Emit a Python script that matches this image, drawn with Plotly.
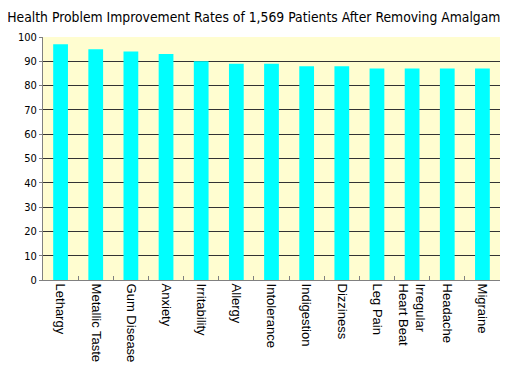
import plotly.graph_objects as go

categories = ["Lethargy", "Metallic Taste", "Gum Disease", "Anxiety", "Irritability",
              "Allergy", "Intolerance", "Indigestion", "Dizziness", "Leg Pain",
              "Irregular<br>Heart Beat", "Headache", "Migraine"]
rates = [97, 95, 94, 93, 90, 89, 89, 88, 88, 87, 87, 87, 87]
y_ticks = [0, 10, 20, 30, 40, 50, 60, 70, 80, 90, 100]
title = "Health Problem Improvement Rates of 1,569 Patients After Removing Amalgam"

fig = go.Figure(go.Bar(x=categories, y=rates, marker=dict(color="#00FFFF", line=dict(width=0))))

fig.update_layout(
    width=510, height=375,
    margin=dict(l=35, r=18, t=29, b=103, autoexpand=False),
    paper_bgcolor="white",
    plot_bgcolor="#FFFDD0",
    bargap=0.58,
    showlegend=False,
    title=dict(text=title, x=0.482, xanchor="center", xref="container",
               y=0.976, yanchor="middle", yref="container",
               font=dict(family="DejaVu Sans Condensed", size=13.8, color="black")),
    font=dict(family="Liberation Sans, Arial", color="black"),
)
fig.update_xaxes(
    automargin=False,
    tickangle=90, tickfont=dict(size=13, family="Liberation Sans, Arial"),
    showline=True, linecolor="#808080", linewidth=1,
    ticks="inside", ticklen=4, tickcolor="#808080", tickson="boundaries",
    showgrid=False,
)
fig.update_yaxes(
    automargin=False,
    range=[0, 100], tickvals=y_ticks,
    tickfont=dict(size=11, family="DejaVu Sans Condensed"),
    showline=True, linecolor="#808080", linewidth=1,
    ticks="outside", ticklen=3, tickcolor="#808080",
    showgrid=True, gridcolor="#333333", gridwidth=1,
    zeroline=False,
)
fig.write_html("out.html")
